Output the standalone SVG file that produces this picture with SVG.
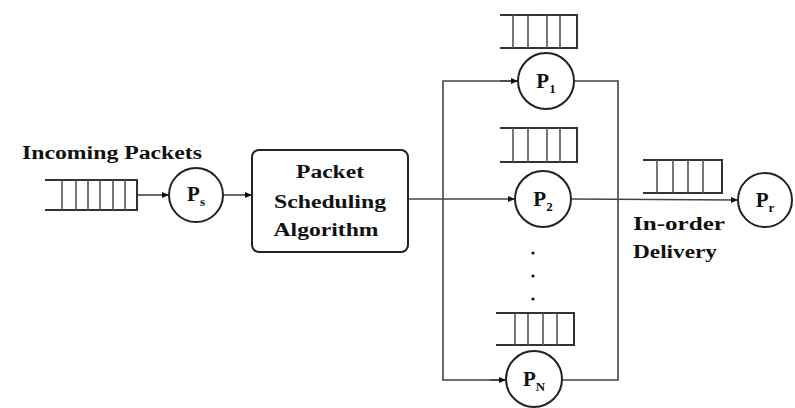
<svg xmlns="http://www.w3.org/2000/svg" width="795" height="408" viewBox="0 0 795 408">
<style>
.t{font-family:"Liberation Serif","Times New Roman",serif;font-weight:bold;fill:#111}
.lbl{font-size:18px}
.p{font-size:21px}
.sub{font-size:13px}
.node{fill:#fff;stroke:#222;stroke-width:2}
.q{stroke:#333;stroke-width:2;fill:none}
.qv{stroke:#555;stroke-width:1.6;fill:none}
.c{stroke:#444;stroke-width:1.6;fill:none}
</style>
<defs>
<marker id="ah" markerWidth="7" markerHeight="6" refX="6" refY="3" orient="auto" markerUnits="userSpaceOnUse">
<path d="M0,0 L7,3 L0,6 Z" fill="#111"/>
</marker>
</defs>
<rect width="795" height="408" fill="#fff"/>

<g id="connectors">
<line class="c" x1="137" y1="195" x2="168" y2="195" marker-end="url(#ah)"/>
<line class="c" x1="223" y1="195" x2="251" y2="195" marker-end="url(#ah)"/>
<line class="c" x1="408" y1="199" x2="514" y2="199" marker-end="url(#ah)"/>
<polyline class="c" points="518,81 443,81 443,380 505,380" />
<line class="c" x1="500" y1="81" x2="517" y2="81" marker-end="url(#ah)"/>
<line class="c" x1="490" y1="380" x2="505" y2="380" marker-end="url(#ah)"/>
<polyline class="c" points="574,81 618,81 618,380 562,380"/>
<line class="c" x1="571" y1="199" x2="737" y2="200" stroke="#777" marker-end="url(#ah)"/>
</g>

<g id="incoming-label">
<text class="t lbl" x="22" y="159" textLength="180" lengthAdjust="spacingAndGlyphs">Incoming Packets</text>
</g>

<g id="queue-in">
<path class="q" d="M45,180 H137 V210 H45"/>
<path class="qv" d="M62,180 V210 M76,180 V210 M88,180 V210 M100,180 V210 M113,180 V210 M125,180 V210"/>
</g>

<g id="node-ps">
<circle class="node" cx="196" cy="195" r="27"/>
<text class="t p" x="196" y="201" text-anchor="middle">P<tspan class="sub" dy="5">s</tspan></text>
</g>

<g id="node-scheduler">
<rect x="252" y="150" width="156" height="102" rx="7" fill="#fff" stroke="#222" stroke-width="2"/>
<text class="t lbl" x="330" y="178" text-anchor="middle" textLength="68" lengthAdjust="spacingAndGlyphs">Packet</text>
<text class="t lbl" x="330" y="208" text-anchor="middle" textLength="112" lengthAdjust="spacingAndGlyphs">Scheduling</text>
<text class="t lbl" x="326" y="236" text-anchor="middle" textLength="105" lengthAdjust="spacingAndGlyphs">Algorithm</text>
</g>

<g id="queue-1">
<path class="q" d="M500,15 H577 V48 H500"/>
<path class="qv" d="M513,15 V48 M528,15 V48 M547,15 V48 M560,15 V48"/>
</g>
<g id="node-p1">
<circle class="node" cx="546" cy="81" r="28"/>
<text class="t p" x="546" y="88" text-anchor="middle">P<tspan class="sub" dy="5">1</tspan></text>
</g>

<g id="queue-2">
<path class="q" d="M500,128 H577 V162 H500"/>
<path class="qv" d="M513,128 V162 M528,128 V162 M547,128 V162 M560,128 V162"/>
</g>
<g id="node-p2">
<circle class="node" cx="543" cy="199" r="28"/>
<text class="t p" x="543" y="206" text-anchor="middle">P<tspan class="sub" dy="5">2</tspan></text>
</g>

<g id="dots">
<circle cx="533" cy="253" r="1.6" fill="#111"/>
<circle cx="533" cy="276" r="1.6" fill="#111"/>
<circle cx="533" cy="299" r="1.6" fill="#111"/>
</g>

<g id="queue-n">
<path class="q" d="M496,313 H574 V345 H496"/>
<path class="qv" d="M515,313 V345 M528,313 V345 M543,313 V345 M557,313 V345"/>
</g>
<g id="node-pn">
<circle class="node" cx="534" cy="379" r="28"/>
<text class="t p" x="534" y="386" text-anchor="middle">P<tspan class="sub" dy="5">N</tspan></text>
</g>

<g id="queue-out">
<path class="q" d="M643,160 H722 V193 H643"/>
<path class="qv" d="M657,160 V193 M673,160 V193 M688,160 V193 M703,160 V193"/>
</g>
<g id="delivery-label">
<text class="t lbl" x="633" y="230" textLength="92" lengthAdjust="spacingAndGlyphs">In-order</text>
<text class="t lbl" x="633" y="258" textLength="84" lengthAdjust="spacingAndGlyphs">Delivery</text>
</g>
<g id="node-pr">
<circle class="node" cx="765" cy="200" r="27"/>
<text class="t p" x="765" y="207" text-anchor="middle">P<tspan class="sub" dy="5">r</tspan></text>
</g>
</svg>
